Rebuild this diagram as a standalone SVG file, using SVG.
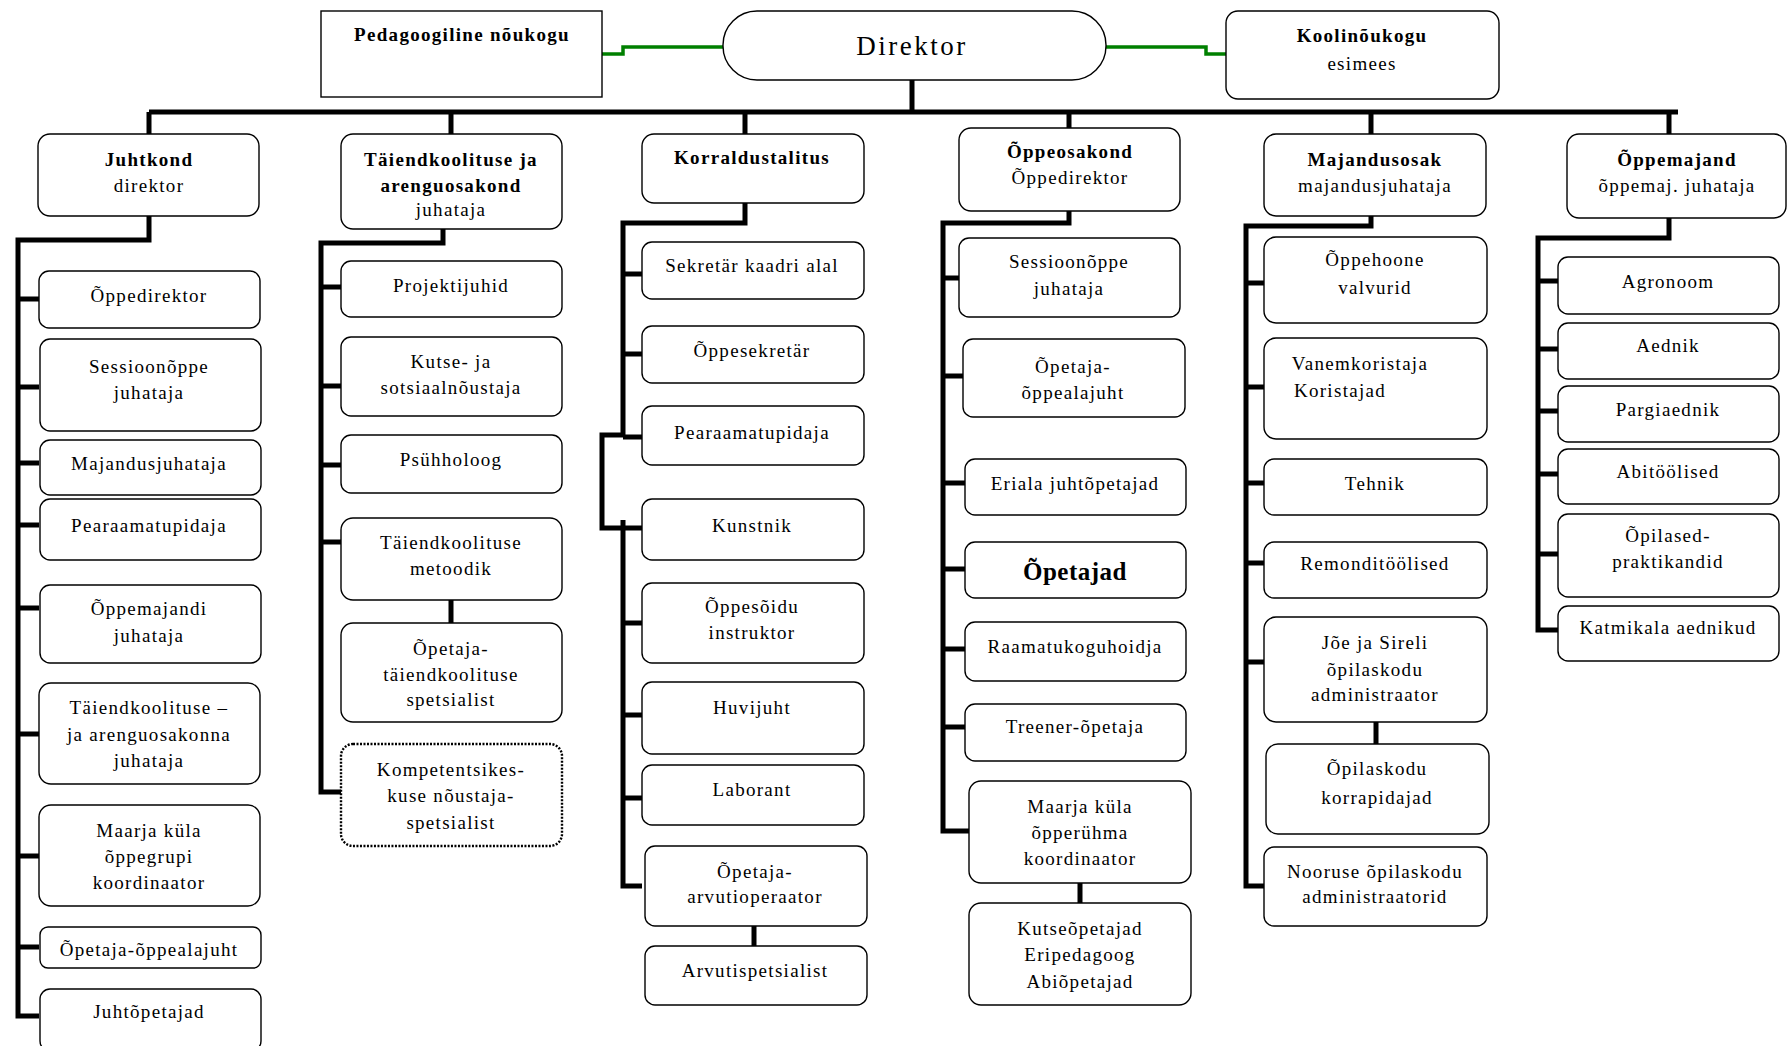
<svg xmlns="http://www.w3.org/2000/svg" width="1792" height="1046" viewBox="0 0 1792 1046">
<style>
.b{fill:#fff;stroke:#000;stroke-width:1.4}
.d{fill:#fff;stroke:#000;stroke-width:2.4;stroke-dasharray:2 1.5}
text{font-family:"Liberation Serif","Times New Roman",serif;font-size:19px;letter-spacing:1.3px;fill:#000;text-anchor:middle;dominant-baseline:central}
.t{font-weight:bold}
.c{fill:none;stroke:#000;stroke-width:5;stroke-linejoin:miter}
.g{fill:none;stroke:#008000;stroke-width:3.5}
</style>
<rect width="1792" height="1046" fill="#fff"/>
<g id="connectors">
<path class="g" d="M602 54H623V47H723"/>
<path class="g" d="M1106 47H1206V54H1226"/>
<path class="c" d="M912 80V112M149 112H1678M149 112V134M451 112V134M745 112V134M1069 112V128M1371 112V134M1669 112V134"/>
<path class="c" d="M149 216V240H18V1016H39M18 299H39M18 387H39M18 463H39M18 525H39M18 608H39M18 734H39M18 856H39M18 947H39"/>
<path class="c" d="M443 229V243H321V792H341M321 287H341M321 386H341M321 465H341M321 542H341M451 600V623"/>
<path class="c" d="M745 203V223H623V437M623 274H642M623 354H642M623 437H642M623 435H602V528H642M623 520V886H642M623 623H642M623 715H642M623 798H642M754 926V946"/>
<path class="c" d="M1069 211V223H943V831H969M943 278H959M943 376H963M943 483H965M943 569H965M943 649H965M943 727H965M1080 883V903"/>
<path class="c" d="M1371 216V226H1246V886H1264M1246 283H1264M1246 387H1264M1246 483H1264M1246 563H1264M1246 662H1264M1376 722V744"/>
<path class="c" d="M1669 218V238H1538V630H1558M1538 281H1558M1538 349H1558M1538 411H1558M1538 474H1558M1538 554H1558"/>
</g>
<g id="pedagoogiline"><rect class="b" x="321" y="11" width="281" height="86"/><text class="t" x="462" y="34">Pedagoogiline nõukogu</text></g>
<g id="direktor"><rect class="b" x="723" y="11" width="383" height="69" rx="34" ry="34"/><text x="912" y="46" style="font-size:27px;letter-spacing:2.5px">Direktor</text></g>
<g id="koolinoukogu"><rect class="b" x="1226" y="11" width="273" height="88" rx="12"/><text class="t" x="1362" y="35">Koolinõukogu</text><text x="1362" y="63">esimees</text></g>

<g id="juhtkond"><rect class="b" x="38" y="134" width="221" height="82" rx="12"/><text class="t" x="149" y="159">Juhtkond</text><text x="149" y="185">direktor</text></g>
<g id="taiendkoolitus"><rect class="b" x="341" y="134" width="221" height="95" rx="12"/><text class="t" x="451" y="159">Täiendkoolituse ja</text><text class="t" x="451" y="185">arenguosakond</text><text x="451" y="209">juhataja</text></g>
<g id="korraldustalitus"><rect class="b" x="642" y="134" width="222" height="69" rx="12"/><text class="t" x="752" y="157">Korraldustalitus</text></g>
<g id="oppeosakond"><rect class="b" x="959" y="128" width="221" height="83" rx="12"/><text class="t" x="1070" y="151">Õppeosakond</text><text x="1070" y="177">Õppedirektor</text></g>
<g id="majandusosak"><rect class="b" x="1264" y="134" width="222" height="82" rx="12"/><text class="t" x="1375" y="159">Majandusosak</text><text x="1375" y="185">majandusjuhataja</text></g>
<g id="oppemajand"><rect class="b" x="1567" y="134" width="219" height="84" rx="12"/><text class="t" x="1677" y="159">Õppemajand</text><text x="1677" y="185">õppemaj. juhataja</text></g>

<g id="j1"><rect class="b" x="39" y="271" width="221" height="57" rx="10"/><text x="149" y="295">Õppedirektor</text></g>
<g id="j2"><rect class="b" x="40" y="339" width="221" height="92" rx="10"/><text x="149" y="366">Sessioonõppe</text><text x="149" y="392">juhataja</text></g>
<g id="j3"><rect class="b" x="40" y="440" width="221" height="55" rx="10"/><text x="149" y="463">Majandusjuhataja</text></g>
<g id="j4"><rect class="b" x="40" y="499" width="221" height="61" rx="10"/><text x="149" y="525">Pearaamatupidaja</text></g>
<g id="j5"><rect class="b" x="40" y="585" width="221" height="78" rx="10"/><text x="149" y="608">Õppemajandi</text><text x="149" y="635">juhataja</text></g>
<g id="j6"><rect class="b" x="39" y="683" width="221" height="101" rx="12"/><text x="149" y="707">Täiendkoolituse –</text><text x="149" y="734">ja arenguosakonna</text><text x="149" y="760">juhataja</text></g>
<g id="j7"><rect class="b" x="39" y="805" width="221" height="101" rx="12"/><text x="149" y="830">Maarja küla</text><text x="149" y="856">õppegrupi</text><text x="149" y="882">koordinaator</text></g>
<g id="j8"><rect class="b" x="40" y="927" width="221" height="41" rx="8"/><text x="149" y="949">Õpetaja-õppealajuht</text></g>
<g id="j9"><rect class="b" x="40" y="989" width="221" height="62" rx="10"/><text x="149" y="1011">Juhtõpetajad</text></g>

<g id="t1"><rect class="b" x="341" y="261" width="221" height="56" rx="10"/><text x="451" y="285">Projektijuhid</text></g>
<g id="t2"><rect class="b" x="341" y="337" width="221" height="79" rx="10"/><text x="451" y="361">Kutse- ja</text><text x="451" y="387">sotsiaalnõustaja</text></g>
<g id="t3"><rect class="b" x="341" y="435" width="221" height="58" rx="10"/><text x="451" y="459">Psühholoog</text></g>
<g id="t4"><rect class="b" x="341" y="518" width="221" height="82" rx="12"/><text x="451" y="542">Täiendkoolituse</text><text x="451" y="568">metoodik</text></g>
<g id="t5"><rect class="b" x="341" y="623" width="221" height="99" rx="12"/><text x="451" y="648">Õpetaja-</text><text x="451" y="674">täiendkoolituse</text><text x="451" y="699">spetsialist</text></g>
<g id="t6"><rect class="d" x="341" y="744" width="221" height="102" rx="12"/><text x="451" y="769">Kompetentsikes-</text><text x="451" y="795">kuse nõustaja-</text><text x="451" y="822">spetsialist</text></g>

<g id="k1"><rect class="b" x="642" y="242" width="222" height="57" rx="10"/><text x="752" y="265">Sekretär kaadri alal</text></g>
<g id="k2"><rect class="b" x="642" y="326" width="222" height="57" rx="10"/><text x="752" y="350">Õppesekretär</text></g>
<g id="k3"><rect class="b" x="642" y="406" width="222" height="59" rx="10"/><text x="752" y="432">Pearaamatupidaja</text></g>
<g id="k4"><rect class="b" x="642" y="499" width="222" height="61" rx="10"/><text x="752" y="525">Kunstnik</text></g>
<g id="k5"><rect class="b" x="642" y="583" width="222" height="80" rx="10"/><text x="752" y="606">Õppesõidu</text><text x="752" y="632">instruktor</text></g>
<g id="k6"><rect class="b" x="642" y="682" width="222" height="72" rx="10"/><text x="752" y="707">Huvijuht</text></g>
<g id="k7"><rect class="b" x="642" y="765" width="222" height="60" rx="10"/><text x="752" y="789">Laborant</text></g>
<g id="k8"><rect class="b" x="645" y="846" width="222" height="80" rx="10"/><text x="755" y="871">Õpetaja-</text><text x="755" y="896">arvutioperaator</text></g>
<g id="k9"><rect class="b" x="645" y="946" width="222" height="59" rx="10"/><text x="755" y="970">Arvutispetsialist</text></g>

<g id="o1"><rect class="b" x="959" y="238" width="221" height="79" rx="10"/><text x="1069" y="261">Sessioonõppe</text><text x="1069" y="288">juhataja</text></g>
<g id="o2"><rect class="b" x="963" y="339" width="222" height="78" rx="10"/><text x="1073" y="366">Õpetaja-</text><text x="1073" y="392">õppealajuht</text></g>
<g id="o3"><rect class="b" x="965" y="459" width="221" height="56" rx="10"/><text x="1075" y="483">Eriala juhtõpetajad</text></g>
<g id="o4"><rect class="b" x="965" y="542" width="221" height="56" rx="10"/><text class="t" x="1075" y="571" style="font-size:25px;letter-spacing:0.5px">Õpetajad</text></g>
<g id="o5"><rect class="b" x="965" y="622" width="221" height="59" rx="10"/><text x="1075" y="646">Raamatukoguhoidja</text></g>
<g id="o6"><rect class="b" x="965" y="704" width="221" height="57" rx="10"/><text x="1075" y="726">Treener-õpetaja</text></g>
<g id="o7"><rect class="b" x="969" y="781" width="222" height="102" rx="12"/><text x="1080" y="806">Maarja küla</text><text x="1080" y="832">õpperühma</text><text x="1080" y="858">koordinaator</text></g>
<g id="o8"><rect class="b" x="969" y="903" width="222" height="102" rx="12"/><text x="1080" y="928">Kutseõpetajad</text><text x="1080" y="954">Eripedagoog</text><text x="1080" y="981">Abiõpetajad</text></g>

<g id="m1"><rect class="b" x="1264" y="237" width="223" height="86" rx="12"/><text x="1375" y="259">Õppehoone</text><text x="1375" y="287">valvurid</text></g>
<g id="m2"><rect class="b" x="1264" y="338" width="223" height="101" rx="12"/><text x="1360" y="363">Vanemkoristaja</text><text x="1340" y="390">Koristajad</text></g>
<g id="m3"><rect class="b" x="1264" y="459" width="223" height="56" rx="10"/><text x="1375" y="483">Tehnik</text></g>
<g id="m4"><rect class="b" x="1264" y="542" width="223" height="56" rx="10"/><text x="1375" y="563">Remonditöölised</text></g>
<g id="m5"><rect class="b" x="1264" y="617" width="223" height="105" rx="12"/><text x="1375" y="642">Jõe ja Sireli</text><text x="1375" y="669">õpilaskodu</text><text x="1375" y="694">administraator</text></g>
<g id="m6"><rect class="b" x="1266" y="744" width="223" height="90" rx="12"/><text x="1377" y="768">Õpilaskodu</text><text x="1377" y="797">korrapidajad</text></g>
<g id="m7"><rect class="b" x="1264" y="847" width="223" height="79" rx="10"/><text x="1375" y="871">Nooruse õpilaskodu</text><text x="1375" y="896">administraatorid</text></g>

<g id="p1"><rect class="b" x="1558" y="257" width="221" height="57" rx="10"/><text x="1668" y="281">Agronoom</text></g>
<g id="p2"><rect class="b" x="1558" y="323" width="221" height="56" rx="10"/><text x="1668" y="345">Aednik</text></g>
<g id="p3"><rect class="b" x="1558" y="386" width="221" height="56" rx="10"/><text x="1668" y="409">Pargiaednik</text></g>
<g id="p4"><rect class="b" x="1558" y="449" width="221" height="55" rx="10"/><text x="1668" y="471">Abitöölised</text></g>
<g id="p5"><rect class="b" x="1558" y="514" width="221" height="83" rx="10"/><text x="1668" y="535">Õpilased-</text><text x="1668" y="561">praktikandid</text></g>
<g id="p6"><rect class="b" x="1558" y="606" width="221" height="55" rx="10"/><text x="1668" y="627">Katmikala aednikud</text></g>
</svg>
